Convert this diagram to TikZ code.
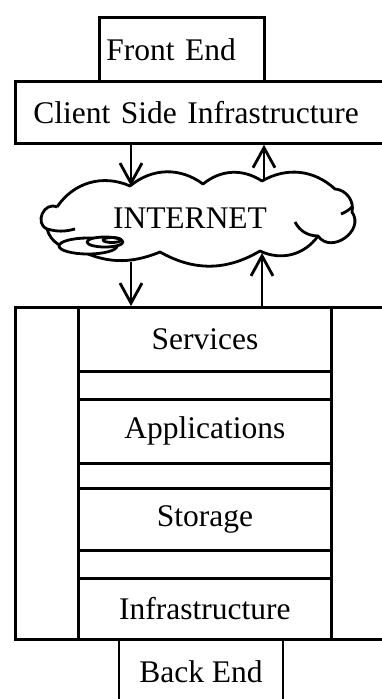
\documentclass[tikz,border=0pt]{standalone}
\usepackage{fontspec}
\setmainfont{Liberation Serif}
\usetikzlibrary{arrows.meta}

\tikzset{
  box/.style={draw, line width=2.8pt, inner sep=0pt, font=\fontsize{31.5}{36}\selectfont},
  arr/.style={line width=2.8pt, -{Straight Barb[length=20pt,width=22pt]}},
  puff/.style={line width=2.8pt, line join=round}
}

\begin{document}
\begin{tikzpicture}[x=1pt,y=-1pt]
\useasboundingbox (0,0) rectangle (382,699);
\clip (0,0) rectangle (382,699);
% front side
\node[box, anchor=north west, minimum height=64pt, text width=151pt, inner xsep=7pt, align=left] (front) at (98,16) {Front End};
\node[box, anchor=north west, minimum height=62pt, text width=350pt, inner xsep=18pt, align=left] (client) at (14,80) {Client Side Infrastructure};
% the cloud
\draw[puff] (57,207) to[bend left=40] (130,186) to[bend left=38] (203,184) to[bend left=36] (262,181)
  to[bend left=36] (335,189) to[bend left=50] (352,212) to[bend left=90, looseness=1.4] (318,236)
  to[bend left=40] (260,251) to[bend left=30] (160,252) to[bend left=25] (75,248)
  to[bend left=40] (47,229) to[bend left=90, looseness=1.5] (57,207);
\draw[puff] (47,229) to[bend right=15] (75,229); % inner strokes
\draw[puff] (318,236) to[bend left=30] (295,222);
\draw[puff] (352,207) to[bend left=10] (341,214);
\draw[puff, fill=white] (88,246) ellipse (29pt and 8pt);
\draw[puff, fill=white] (105,242) ellipse (18pt and 5pt);
\draw[puff] (112,240) ellipse (9pt and 2.5pt);
\node[box, draw=none] (net) at (190,218) {INTERNET};
% back side
\node[box, anchor=north west, minimum width=386pt, minimum height=332pt] (back) at (14,306) {};
\node[box, anchor=north west, minimum width=253pt, minimum height=332pt] (stack) at (77,306) {};
\foreach \name/\top/\hgt/\texto in {serv/306/64/{Services},apps/398/64/{Applications},stor/487/62/{Storage},infra/577/61/{Infrastructure}} % one layer each
\node[box, anchor=north west, minimum width=253pt, minimum height=\hgt pt] (\name) at (77,\top) {\texto};
\node[box, anchor=north, minimum width=164pt, minimum height=64pt] (backend) at (201,638) {Back End};
% arrows
\coordinate (inA) at (131,186);
\coordinate (outA) at (264,180);
\coordinate (inB) at (131,262);
\coordinate (outB) at (262,253);
\draw[arr] (client.south -| inA) -- (inA);
\draw[arr] (outA) -- (client.south -| outA);
\draw[arr] (inB) -- (back.north -| inB);
\draw[arr] (back.north -| outB) -- (outB);
\end{tikzpicture}
\end{document}
